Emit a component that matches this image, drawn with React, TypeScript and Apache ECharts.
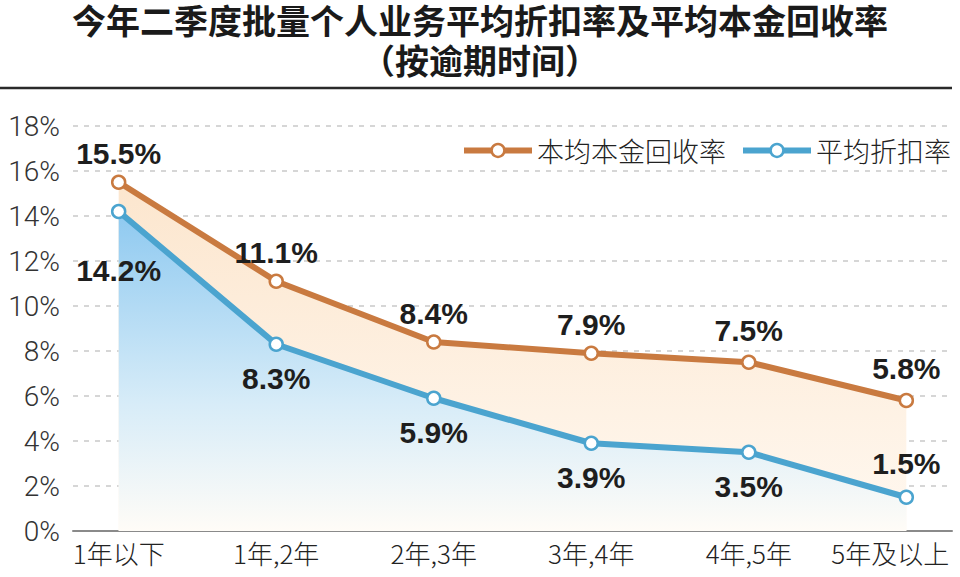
import React, { useEffect, useRef } from "react";
import * as echarts from "echarts";

const titleLine1 = "今年二季度批量个人业务平均折扣率及平均本金回收率";
const titleLine2 = "（按逾期时间）";
const categories = ["1年以下", "1年,2年", "2年,3年", "3年,4年", "4年,5年", "5年及以上"];
const recoveryName = "本均本金回收率";
const discountName = "平均折扣率";
const recoveryValues = [15.5, 11.1, 8.4, 7.9, 7.5, 5.8];
const discountValues = [14.2, 8.3, 5.9, 3.9, 3.5, 1.5];
const yTicks = [0, 2, 4, 6, 8, 10, 12, 14, 16, 18];

const ORANGE = "#c97a40";
const BLUE = "#4ba4cf";

export default function App() {
  const ref = useRef<HTMLDivElement>(null);
  useEffect(() => {
    if (!ref.current) return;
    const chart = echarts.init(ref.current, null, { renderer: "svg" });
    const labelStyle = {
      show: true,
      fontSize: 30,
      fontWeight: "bold" as const,
      color: "#1e1e1e",
      fontFamily: "Liberation Sans, Arial, sans-serif",
      formatter: (p: any) => p.value[1].toFixed(1) + "%",
    };
    const recData = recoveryValues.map((v, i) => ({
      value: [i, v],
      label: { position: "top", distance: 6 + (i >= 4 ? 3 : 0) },
    }));
    const disData = discountValues.map((v, i) => {
      let label: any = { position: "bottom", distance: 11 };
      if (i === 0) label = { position: "bottom", distance: 36 };
      if (i === 5) label = { position: "top", distance: 11 };
      return { value: [i, v], label };
    });
    const titleFont = {
      fontSize: 34,
      lineHeight: 38,
      fontWeight: "bold",
      color: "#1a1a1a",
      fontFamily: "Noto Sans CJK SC, sans-serif",
    };
    chart.setOption({
      animation: false,
      backgroundColor: "#ffffff",
      title: {
        text: titleLine1,
        subtext: titleLine2,
        left: "center",
        top: 0,
        padding: 0,
        itemGap: 2,
        textStyle: titleFont,
        subtextStyle: titleFont,
      },
      graphic: [
        {
          type: "line",
          shape: { x1: 0, y1: 88, x2: 952, y2: 88 },
          style: { stroke: "#2a2a2a", lineWidth: 2.5 },
        },
      ],
      legend: {
        top: 132,
        right: 4,
        itemWidth: 68,
        itemHeight: 16,
        itemGap: 14,
        lineStyle: { width: 6 },
        itemStyle: { borderWidth: 2.5 },
        textStyle: {
          fontSize: 27,
          color: "#222",
          fontFamily: "Noto Sans CJK SC, sans-serif",
          fontWeight: 300,
        },
        data: [recoveryName, discountName],
      },
      grid: { left: 73, right: 8, top: 126, bottom: 46 },
      xAxis: {
        type: "value",
        min: -0.29,
        max: 5.29,
        splitLine: { show: false },
        axisTick: { show: false },
        axisLine: { show: true, lineStyle: { color: "#8a8a8a", width: 2 } },
        axisLabel: {
          customValues: categories.map((_, i) => i),
          margin: 8,
          fontSize: 26,
          color: "#222",
          fontWeight: 300,
          fontFamily: "Noto Sans CJK SC, sans-serif",
          formatter: (v: number) => {
            const i = Math.round(v);
            const t = categories[i];
            return i === categories.length - 1 ? "{r|" + t + "}" : t;
          },
          rich: {
            r: {
              fontSize: 26,
              color: "#222",
              fontWeight: 300,
              fontFamily: "Noto Sans CJK SC, sans-serif",
              padding: [0, 32, 0, 0],
            },
          },
        },
      },
      yAxis: {
        type: "value",
        min: yTicks[0],
        max: yTicks[yTicks.length - 1],
        interval: 2,
        axisLine: { show: false },
        axisTick: { show: false },
        axisLabel: {
          formatter: "{value}%",
          fontSize: 28,
          color: "#333",
          margin: 13,
          fontWeight: 300,
          fontFamily: "Roboto, Lato, sans-serif",
        },
        splitLine: {
          show: true,
          lineStyle: { color: "#c9c9c9", width: 1.5, type: [5, 6] },
        },
      },
      series: [
        {
          name: recoveryName,
          type: "line",
          data: recData,
          symbol: "circle",
          symbolSize: 13,
          itemStyle: { color: "#ffffff", borderColor: ORANGE, borderWidth: 2.5 },
          lineStyle: { color: ORANGE, width: 6 },
          label: labelStyle,
          areaStyle: {
            opacity: 1,
            color: new echarts.graphic.LinearGradient(0, 0, 0, 1, [
              { offset: 0, color: "rgba(252,230,206,1)" },
              { offset: 1, color: "rgba(255,248,240,1)" },
            ]),
          },
        },
        {
          name: discountName,
          type: "line",
          data: disData,
          symbol: "circle",
          symbolSize: 13,
          itemStyle: { color: "#ffffff", borderColor: BLUE, borderWidth: 2.5 },
          lineStyle: { color: BLUE, width: 6 },
          label: labelStyle,
          areaStyle: {
            opacity: 1,
            color: new echarts.graphic.LinearGradient(0, 0, 0, 1, [
              { offset: 0, color: "rgba(142,201,240,1)" },
              { offset: 0.6, color: "rgba(215,236,248,1)" },
              { offset: 1, color: "rgba(255,252,247,1)" },
            ]),
          },
        },
      ],
    });
    return () => chart.dispose();
  }, []);
  return <div ref={ref} style={{ width: 960, height: 577, position: "absolute", left: 0, top: 0 }} />;
}
